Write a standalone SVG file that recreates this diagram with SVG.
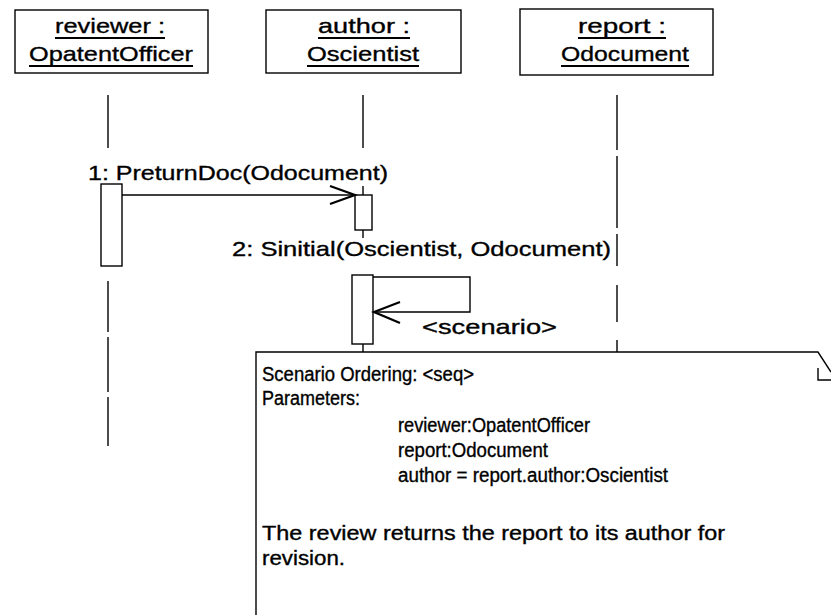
<svg xmlns="http://www.w3.org/2000/svg" width="831" height="615" viewBox="0 0 831 615">
  <style>
    .box { fill: #ffffff; stroke: #000000; stroke-width: 1.4; }
    .line { fill: none; stroke: #000000; stroke-width: 1.4; }
    .head { fill: none; stroke: #000000; stroke-width: 2.2; stroke-linejoin: miter; }
    .ul { stroke: #000000; stroke-width: 1.8; }
    .lbl { font-family: "Liberation Sans", Arial, sans-serif; font-size: 21px; fill: #000000; stroke: #000000; stroke-width: 0.35; }
    .note { font-family: "Liberation Sans", Arial, sans-serif; font-size: 20px; fill: #000000; stroke: #000000; stroke-width: 0.35; }
  </style>

  <rect width="831" height="615" fill="#ffffff"/>

  <!-- object: reviewer -->
  <g id="reviewer">
    <rect class="box" x="15" y="10" width="193" height="63"/>
    <text class="lbl" x="55" y="33" textLength="110" lengthAdjust="spacingAndGlyphs">reviewer :</text>
    <line class="ul" x1="55" y1="38" x2="165" y2="38"/>
    <text class="lbl" x="29" y="61" textLength="164" lengthAdjust="spacingAndGlyphs">OpatentOfficer</text>
    <line class="ul" x1="29" y1="66" x2="193" y2="66"/>
    <line class="line" x1="108" y1="95" x2="108" y2="148"/>
    <rect class="box" x="101" y="184" width="21" height="82"/>
    <line class="line" x1="108" y1="281" x2="108" y2="332"/>
    <line class="line" x1="108" y1="337" x2="108" y2="392"/>
    <line class="line" x1="108" y1="397" x2="108" y2="446"/>
  </g>

  <!-- object: author -->
  <g id="author">
    <rect class="box" x="266" y="10" width="195" height="63"/>
    <text class="lbl" x="318" y="33" textLength="92" lengthAdjust="spacingAndGlyphs">author :</text>
    <line class="ul" x1="318" y1="38" x2="410" y2="38"/>
    <text class="lbl" x="307" y="61" textLength="112" lengthAdjust="spacingAndGlyphs">Oscientist</text>
    <line class="ul" x1="307" y1="66" x2="419" y2="66"/>
    <line class="line" x1="363" y1="95" x2="363" y2="148"/>
    <line class="line" x1="363" y1="186" x2="363" y2="195"/>
    <rect class="box" x="355" y="195" width="17" height="35"/>
    <line class="line" x1="363" y1="230" x2="363" y2="238"/>
    <rect class="box" x="352" y="275" width="21" height="69"/>
    <line class="line" x1="363" y1="344" x2="363" y2="352"/>
  </g>

  <!-- object: report -->
  <g id="report">
    <rect class="box" x="520" y="9" width="193" height="66"/>
    <text class="lbl" x="578" y="33" textLength="88" lengthAdjust="spacingAndGlyphs">report :</text>
    <line class="ul" x1="578" y1="38" x2="666" y2="38"/>
    <text class="lbl" x="561" y="61" textLength="128" lengthAdjust="spacingAndGlyphs">Odocument</text>
    <line class="ul" x1="561" y1="66" x2="689" y2="66"/>
    <line class="line" x1="617" y1="95" x2="617" y2="150"/>
    <line class="line" x1="617" y1="156" x2="617" y2="228"/>
    <line class="line" x1="617" y1="234" x2="617" y2="266"/>
    <line class="line" x1="617" y1="285" x2="617" y2="322"/>
    <line class="line" x1="617" y1="340" x2="617" y2="352"/>
  </g>

  <!-- messages -->
  <g id="connectors">
    <g id="msg1">
      <line class="line" x1="122" y1="195" x2="355" y2="195"/>
      <polyline class="head" points="330,186 355,195 330,204"/>
      <text class="lbl" x="88" y="180" textLength="300" lengthAdjust="spacingAndGlyphs">1: PreturnDoc(Odocument)</text>
    </g>
    <g id="msg2">
      <polyline class="line" points="373,277 470,277 470,312 374,312"/>
      <polyline class="head" points="400,302 374,312 400,323"/>
      <text class="lbl" x="232" y="256" textLength="379" lengthAdjust="spacingAndGlyphs">2: Sinitial(Oscientist, Odocument)</text>
    </g>
    <text class="lbl" x="422" y="334" textLength="135" lengthAdjust="spacingAndGlyphs">&lt;scenario&gt;</text>
  </g>

  <!-- scenario note with folded corner -->
  <g id="scenario-note">
    <path class="line" d="M256,615 V352 H818 L831,372"/>
    <path class="line" d="M818,368 V380 H831"/>
    <text class="note" x="262" y="381" textLength="212" lengthAdjust="spacingAndGlyphs">Scenario Ordering: &lt;seq&gt;</text>
    <text class="note" x="262" y="405" textLength="98" lengthAdjust="spacingAndGlyphs">Parameters:</text>
    <text class="note" x="398" y="432" textLength="192" lengthAdjust="spacingAndGlyphs">reviewer:OpatentOfficer</text>
    <text class="note" x="398" y="457" textLength="150" lengthAdjust="spacingAndGlyphs">report:Odocument</text>
    <text class="note" x="398" y="482" textLength="270" lengthAdjust="spacingAndGlyphs">author = report.author:Oscientist</text>
    <text class="note" x="262" y="540" textLength="463" lengthAdjust="spacingAndGlyphs">The review returns the report to its author for</text>
    <text class="note" x="262" y="565" textLength="83" lengthAdjust="spacingAndGlyphs">revision.</text>
  </g>
</svg>
